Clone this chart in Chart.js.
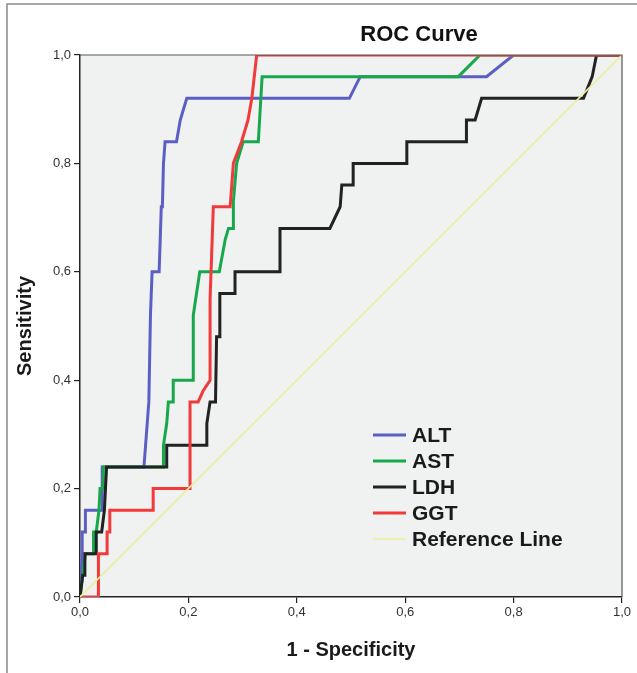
<!DOCTYPE html>
<html>
<head>
<meta charset="utf-8">
<script src="https://cdn.jsdelivr.net/npm/chart.js@4/dist/chart.umd.min.js"></script>
<style>
  html, body { margin: 0; padding: 0; background: #fff; }
  #wrap { width: 637px; height: 673px; }
</style>
</head>
<body>
<div id="wrap"><canvas id="rocChart" width="637" height="673"></canvas></div>
<script>
// ROC data (1 - specificity, sensitivity)
var seriesNames = ["ALT", "AST", "LDH", "GGT", "Reference Line"];
var seriesColors = ["#5b5fc4", "#18a84c", "#222222", "#f23a3a", "#efee9c"];

var altX = [0, 0.004, 0.004, 0.010, 0.010, 0.041, 0.041, 0.118, 0.121, 0.124, 0.127, 0.130, 0.133, 0.146, 0.148, 0.150, 0.152, 0.154, 0.157, 0.178, 0.185, 0.197, 0.497, 0.517, 0.750, 0.800, 1];
var altY = [0, 0.08, 0.12, 0.12, 0.16, 0.16, 0.24, 0.24, 0.28, 0.32, 0.36, 0.52, 0.60, 0.60, 0.66, 0.72, 0.72, 0.80, 0.84, 0.84, 0.88, 0.92, 0.92, 0.96, 0.96, 1, 1];

var astX = [0, 0.005, 0.010, 0.025, 0.025, 0.030, 0.035, 0.037, 0.043, 0.043, 0.154, 0.154, 0.160, 0.163, 0.172, 0.172, 0.209, 0.209, 0.221, 0.257, 0.268, 0.274, 0.283, 0.283, 0.289, 0.295, 0.301, 0.329, 0.336, 0.698, 0.738, 1];
var astY = [0, 0.04, 0.08, 0.08, 0.12, 0.12, 0.16, 0.20, 0.20, 0.24, 0.24, 0.28, 0.32, 0.36, 0.36, 0.40, 0.40, 0.52, 0.60, 0.60, 0.66, 0.68, 0.68, 0.73, 0.80, 0.82, 0.84, 0.84, 0.96, 0.96, 1, 1];

var ldhX = [0, 0.005, 0.009, 0.009, 0.030, 0.030, 0.040, 0.045, 0.049, 0.160, 0.160, 0.234, 0.234, 0.240, 0.250, 0.252, 0.258, 0.258, 0.286, 0.286, 0.369, 0.369, 0.461, 0.480, 0.483, 0.504, 0.504, 0.603, 0.603, 0.713, 0.713, 0.729, 0.741, 0.929, 0.945, 0.953, 1];
var ldhY = [0, 0.04, 0.04, 0.08, 0.08, 0.12, 0.12, 0.16, 0.24, 0.24, 0.28, 0.28, 0.32, 0.36, 0.36, 0.48, 0.48, 0.56, 0.56, 0.60, 0.60, 0.68, 0.68, 0.72, 0.76, 0.76, 0.80, 0.80, 0.84, 0.84, 0.88, 0.88, 0.92, 0.92, 0.96, 1, 1];

var ggtX = [0, 0.034, 0.034, 0.050, 0.050, 0.055, 0.055, 0.135, 0.135, 0.203, 0.203, 0.218, 0.227, 0.240, 0.240, 0.246, 0.277, 0.277, 0.283, 0.298, 0.310, 0.317, 0.326, 1];
var ggtY = [0, 0, 0.08, 0.08, 0.12, 0.12, 0.16, 0.16, 0.20, 0.20, 0.36, 0.36, 0.38, 0.40, 0.55, 0.72, 0.72, 0.72, 0.80, 0.84, 0.88, 0.92, 1, 1];

var refX = [0, 1];
var refY = [0, 1];

var tickValues = [0, 0.2, 0.4, 0.6, 0.8, 1.0];

function toPoints(xs, ys) {
    var pts = [];
    for (var i = 0; i < xs.length; i++) pts.push({ x: xs[i], y: ys[i] });
    return pts;
}

function commaLabel(v) {
    return Number(v).toFixed(1).replace('.', ',');
}

var allX = [altX, astX, ldhX, ggtX, refX];
var allY = [altY, astY, ldhY, ggtY, refY];

var datasets = seriesNames.map(function (name, i) {
    return {
        label: name,
        data: toPoints(allX[i], allY[i]),
        showLine: true,
        borderColor: seriesColors[i],
        backgroundColor: seriesColors[i],
        borderWidth: i === 4 ? 1.6 : 3,
        pointRadius: 0,
        tension: 0,
        order: 4 - i
    };
});

var fontFamily = '"Liberation Sans", Arial, sans-serif';

// background, frame, title and in-plot legend
var decorations = {
    id: 'decorations',
    beforeDraw: function (chart) {
        var c = chart.ctx, a = chart.chartArea;
        c.save();
        c.fillStyle = '#fff';
        c.fillRect(0, 0, chart.width, chart.height);
        c.strokeStyle = '#8a8a8a';
        c.lineWidth = 1.5;
        c.beginPath();
        c.moveTo(7, chart.height);
        c.lineTo(7, 4);
        c.lineTo(chart.width, 4);
        c.stroke();
        c.fillStyle = '#f0f1f1';
        c.fillRect(a.left, a.top, a.right - a.left, a.bottom - a.top);
        c.restore();
    },
    afterDraw: function (chart) {
        var c = chart.ctx, a = chart.chartArea;
        c.save();
        c.strokeStyle = '#555';
        c.lineWidth = 1.2;
        c.beginPath();
        c.moveTo(a.left, a.top);
        c.lineTo(a.right, a.top);
        c.lineTo(a.right, a.bottom);
        c.stroke();

        c.fillStyle = '#111';
        c.font = 'bold 22px ' + fontFamily;
        c.textAlign = 'center';
        c.textBaseline = 'middle';
        c.fillText('ROC Curve', 419, 35);

        c.font = 'bold 21px ' + fontFamily;
        c.textAlign = 'left';
        for (var i = 0; i < seriesNames.length; i++) {
            var y = 435 + i * 26;
            c.strokeStyle = seriesColors[i];
            c.lineWidth = i === 4 ? 1.6 : 3;
            c.beginPath();
            c.moveTo(373, y);
            c.lineTo(406, y);
            c.stroke();
            c.fillStyle = '#1a1a1a';
            c.fillText(seriesNames[i], 412, y + 1);
        }
        c.restore();
    }
};

var tickFont = { family: fontFamily, size: 13 };
var titleFont = { family: fontFamily, size: 20, weight: 'bold' };

var chart = new Chart(document.getElementById('rocChart').getContext('2d'), {
    type: 'scatter',
    data: { datasets: datasets },
    options: {
        responsive: false,
        animation: false,
        layout: { padding: { left: 0, top: 55, right: 15, bottom: 0 } },
        plugins: {
            legend: { display: false },
            title: { display: false },
            tooltip: { enabled: false }
        },
        scales: {
            x: {
                type: 'linear',
                min: 0,
                max: 1,
                afterBuildTicks: function (s) { s.ticks = tickValues.map(function (v) { return { value: v }; }); },
                afterFit: function (s) { s.height = 76; },
                ticks: { callback: commaLabel, color: '#333', font: tickFont, padding: 2, maxRotation: 0 },
                grid: { drawOnChartArea: false, drawTicks: true, tickLength: 6, color: '#222', lineWidth: 1.2 },
                border: { display: true, color: '#222', width: 1.5 },
                title: { display: true, text: '1 - Specificity', color: '#1a1a1a', font: titleFont, padding: { top: 0, bottom: 11 } }
            },
            y: {
                type: 'linear',
                min: 0,
                max: 1,
                afterBuildTicks: function (s) { s.ticks = tickValues.map(function (v) { return { value: v }; }); },
                afterFit: function (s) { s.width = 80; },
                ticks: { callback: commaLabel, color: '#333', font: tickFont, padding: 3 },
                grid: { drawOnChartArea: false, drawTicks: true, tickLength: 6, color: '#222', lineWidth: 1.2 },
                border: { display: true, color: '#222', width: 1.5 },
                title: { display: true, text: 'Sensitivity', color: '#1a1a1a', font: titleFont, padding: { top: 13, bottom: 0 } }
            }
        }
    },
    plugins: [decorations]
});
</script>
</body>
</html>
